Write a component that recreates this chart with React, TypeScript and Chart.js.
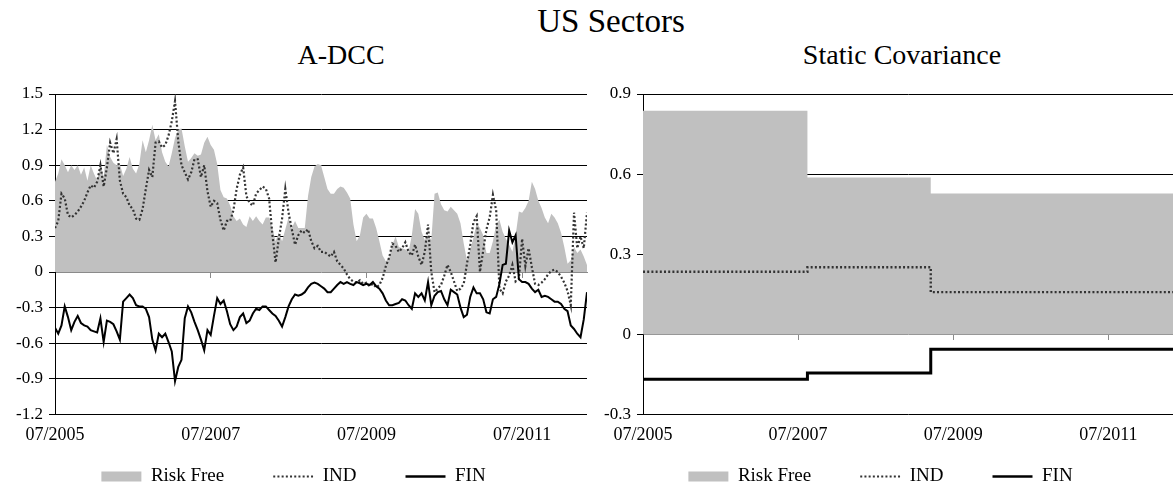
import { useEffect, useRef } from 'react';
import { Chart, registerables } from 'chart.js';

Chart.register(...registerables);

// Semi-monthly observations starting July 2005
const START_YEAR = 2005.5;
const PERIODS_PER_YEAR = 24;

const riskFree = [
  0.76, 0.83, 0.95, 0.90, 0.84, 0.90, 0.86, 0.90, 0.82, 0.88,
  0.77, 0.90, 0.83, 0.77, 0.91, 0.80, 1.07, 0.97, 0.92, 0.90,
  0.91, 0.81, 0.87, 0.97, 0.87, 0.83, 0.91, 1.11, 1.01, 1.11,
  1.24, 1.11, 1.16, 1.01, 0.93, 0.89, 1.00, 1.13, 1.20, 1.21,
  1.06, 0.93, 0.96, 1.00, 0.98, 0.99, 1.09, 1.14, 1.07, 1.03,
  0.91, 0.69, 0.63, 0.62, 0.56, 0.47, 0.43, 0.45, 0.40, 0.38,
  0.47, 0.43, 0.47, 0.43, 0.40, 0.46, 0.46, 0.37, 0.26, 0.33,
  0.26, 0.36, 0.46, 0.37, 0.43, 0.37, 0.37, 0.37, 0.64, 0.80,
  0.89, 0.91, 0.90, 0.80, 0.70, 0.66, 0.66, 0.70, 0.72, 0.71,
  0.67, 0.62, 0.40, 0.26, 0.31, 0.46, 0.49, 0.45, 0.45, 0.37,
  0.26, 0.14, 0.09, 0.12, 0.23, 0.30, 0.21, 0.20, 0.19, 0.17,
  0.31, 0.53, 0.49, 0.34, 0.27, 0.31, 0.27, 0.66, 0.67, 0.57,
  0.52, 0.51, 0.55, 0.52, 0.49, 0.41, 0.24, 0.10, 0.19, 0.29,
  0.41, 0.37, 0.31, 0.16, 0.16, 0.26, 0.40, 0.44, 0.34, 0.28,
  0.23, 0.17, 0.31, 0.51, 0.50, 0.54, 0.60, 0.76, 0.70, 0.60,
  0.54, 0.46, 0.41, 0.49, 0.46, 0.41, 0.33, 0.21, 0.07, 0.10,
  0.21, 0.16, 0.19, 0.13, 0.06,
];

const ind = [
  0.37, 0.43, 0.66, 0.62, 0.48, 0.46, 0.48, 0.51, 0.55, 0.60,
  0.67, 0.73, 0.71, 0.76, 0.90, 0.72, 0.88, 1.09, 1.00, 1.12,
  0.77, 0.66, 0.63, 0.56, 0.53, 0.45, 0.44, 0.53, 0.70, 0.86,
  0.80, 1.09, 1.10, 1.05, 1.07, 1.15, 1.27, 1.44, 1.10, 0.90,
  0.84, 0.78, 0.84, 0.95, 0.95, 0.80, 0.90, 0.68, 0.55, 0.60,
  0.58, 0.44, 0.35, 0.43, 0.43, 0.52, 0.70, 0.82, 0.88, 0.64,
  0.58, 0.56, 0.66, 0.69, 0.72, 0.70, 0.62, 0.32, 0.08, 0.28,
  0.45, 0.70, 0.50, 0.36, 0.23, 0.31, 0.35, 0.33, 0.36, 0.26,
  0.20, 0.22, 0.17, 0.17, 0.15, 0.13, 0.17, 0.09, 0.06, 0.03,
  -0.02, -0.06, -0.08, -0.09, -0.07, -0.10, -0.09, -0.12, -0.10, -0.13,
  -0.11, -0.05, 0.05, 0.12, 0.24, 0.22, 0.17, 0.20, 0.25, 0.17,
  0.14, 0.23, 0.13, 0.06, 0.17, 0.40, 0.00, -0.17, -0.14, -0.11,
  -0.03, 0.06, 0.00, -0.08, -0.16, -0.14, -0.10, 0.07, 0.23, 0.42,
  0.47, 0.00, 0.18, 0.36, 0.46, 0.65, 0.52, -0.14, -0.18, -0.08,
  -0.03, 0.06, -0.08, -0.06, 0.28, 0.05, 0.20, 0.04, -0.10, -0.11,
  -0.09, -0.06, -0.02, 0.01, 0.02, 0.00, -0.04, -0.09, -0.16, -0.28,
  0.50, 0.20, 0.30, 0.20, 0.50,
];

const fin = [
  -0.47, -0.52, -0.45, -0.29, -0.38, -0.49, -0.42, -0.37, -0.43, -0.45,
  -0.46, -0.49, -0.50, -0.51, -0.39, -0.59, -0.41, -0.42, -0.44, -0.50,
  -0.57, -0.25, -0.22, -0.19, -0.22, -0.28, -0.29, -0.29, -0.31, -0.38,
  -0.57, -0.66, -0.52, -0.55, -0.52, -0.59, -0.67, -0.92, -0.80, -0.74,
  -0.39, -0.29, -0.34, -0.42, -0.49, -0.57, -0.66, -0.49, -0.53, -0.37,
  -0.22, -0.27, -0.24, -0.33, -0.44, -0.49, -0.46, -0.38, -0.35, -0.43,
  -0.41, -0.35, -0.31, -0.32, -0.29, -0.29, -0.32, -0.35, -0.37, -0.41,
  -0.46, -0.38, -0.29, -0.23, -0.19, -0.20, -0.19, -0.17, -0.13, -0.10,
  -0.09, -0.10, -0.12, -0.14, -0.17, -0.17, -0.14, -0.11, -0.085, -0.10,
  -0.085, -0.10, -0.11, -0.085, -0.095, -0.11, -0.10, -0.11, -0.085, -0.12,
  -0.14, -0.18, -0.24, -0.28, -0.28, -0.27, -0.26, -0.23, -0.24, -0.28,
  -0.31, -0.18, -0.21, -0.18, -0.24, -0.085, -0.28, -0.20, -0.17, -0.16,
  -0.23, -0.28, -0.15, -0.17, -0.19, -0.30, -0.38, -0.36, -0.21, -0.13,
  -0.18, -0.18, -0.23, -0.34, -0.35, -0.23, -0.21, -0.10, 0.06, 0.07,
  0.35, 0.25, 0.31, -0.06, -0.085, -0.085, -0.10, -0.14, -0.17, -0.15,
  -0.21, -0.20, -0.21, -0.23, -0.25, -0.25, -0.27, -0.31, -0.33, -0.45,
  -0.48, -0.52, -0.55, -0.40, -0.17,
];

// Static covariance: one value per regime, each regime starting at the given date
const regimeStarts = [2005.5, 2007.62, 2009.21];
const staticRiskFree = [0.837, 0.587, 0.527];
const staticInd = [0.234, 0.251, 0.158];
const staticFin = [-0.168, -0.145, -0.056];

const tickYears = [2005.5, 2007.5, 2009.5, 2011.5];
const tickLabels = ['07/2005', '07/2007', '07/2009', '07/2011'];

const adccTicks = [-1.2, -0.9, -0.6, -0.3, 0, 0.3, 0.6, 0.9, 1.2, 1.5];
const staticTicks = [-0.3, 0, 0.3, 0.6, 0.9];

const END_YEAR = START_YEAR + (riskFree.length - 1) / PERIODS_PER_YEAR;

const FAMILY = "'Liberation Serif', 'Times New Roman', serif";
const GREY = '#c0c0c0';
const IND_COLOR = '#333333';
const AXIS_GREY = '#8a8a8a';
const IND_DASH = [2, 2.2];

Chart.defaults.font.family = FAMILY;
Chart.defaults.color = '#000';

const toSeries = (values: number[]) =>
  values.map((y, i) => ({ x: START_YEAR + i / PERIODS_PER_YEAR, y }));

const toSteps = (values: number[]) => [
  ...regimeStarts.map((x, k) => ({ x, y: values[k] })),
  { x: END_YEAR, y: values[values.length - 1] },
];

const formatY = (v: number) => (Math.abs(v) < 1e-9 ? '0' : v.toFixed(1));

const GAP = '\u00a0'.repeat(8);

const legendItems = () => [
  {
    text: 'Risk Free' + GAP,
    fillStyle: GREY,
    strokeStyle: GREY,
    lineWidth: 0,
    pointStyle: 'rect',
    fontColor: '#000',
    hidden: false,
    datasetIndex: 0,
  },
  {
    text: 'IND' + GAP,
    fillStyle: 'rgba(0,0,0,0)',
    strokeStyle: IND_COLOR,
    lineWidth: 2.2,
    lineDash: IND_DASH,
    pointStyle: 'line',
    fontColor: '#000',
    hidden: false,
    datasetIndex: 1,
  },
  {
    text: 'FIN',
    fillStyle: 'rgba(0,0,0,0)',
    strokeStyle: '#000',
    lineWidth: 2.5,
    pointStyle: 'line',
    fontColor: '#000',
    hidden: false,
    datasetIndex: 2,
  },
];

function buildConfig(datasets: any[], yTicks: number[], padRight: number): any {
  const setXTicks = (scale: any) => {
    scale.ticks = tickYears.map((value) => ({ value }));
  };
  return {
    type: 'line',
    data: { datasets },
    options: {
      animation: false,
      responsive: false,
      maintainAspectRatio: false,
      devicePixelRatio: 1,
      layout: { padding: { top: 94, right: padRight, left: 0, bottom: 0 } },
      scales: {
        x: {
          type: 'linear',
          min: START_YEAR,
          max: END_YEAR,
          afterBuildTicks: setXTicks,
          ticks: {
            callback: (_v: number, i: number) => tickLabels[i] ?? '',
            font: { family: FAMILY, size: 18 },
            color: '#000',
            padding: 10,
            maxRotation: 0,
            autoSkip: false,
          },
          grid: { display: false, drawTicks: false },
          border: { display: false },
        },
        xZero: {
          type: 'linear',
          axis: 'x',
          position: { y: 0 },
          min: START_YEAR,
          max: END_YEAR,
          afterBuildTicks: setXTicks,
          ticks: { display: false },
          grid: {
            drawOnChartArea: false,
            drawTicks: true,
            tickLength: 5,
            color: AXIS_GREY,
          },
          border: { display: true, color: AXIS_GREY, width: 1 },
          z: 1,
        },
        y: {
          type: 'linear',
          min: yTicks[0],
          max: yTicks[yTicks.length - 1],
          afterBuildTicks: (scale: any) => {
            scale.ticks = yTicks.map((value) => ({ value }));
          },
          afterFit: (scale: any) => {
            scale.width = 55;
          },
          ticks: {
            callback: (v: number) => formatY(v),
            font: { family: FAMILY, size: 17 },
            color: '#000',
            padding: 6,
          },
          grid: {
            color: (ctx: any) =>
              ctx.tick && Math.abs(ctx.tick.value) < 1e-9 ? 'rgba(0,0,0,0)' : '#000',
            tickColor: '#000',
            tickLength: 6,
            lineWidth: 1,
          },
          border: { display: true, color: '#000', width: 1 },
        },
      },
      plugins: {
        legend: {
          position: 'bottom',
          onClick: () => {},
          labels: {
            usePointStyle: true,
            pointStyleWidth: 40,
            boxHeight: 10,
            padding: 11,
            color: '#000',
            font: { family: FAMILY, size: 19 },
            generateLabels: legendItems,
          },
        },
        tooltip: { enabled: false },
      },
    },
  };
}

export default function App() {
  const leftRef = useRef<HTMLCanvasElement>(null);
  const rightRef = useRef<HTMLCanvasElement>(null);

  useEffect(() => {
    document.body.style.margin = '0';
    const lineBase = { pointRadius: 0, tension: 0 };

    const adcc = new Chart(
      leftRef.current as HTMLCanvasElement,
      buildConfig(
        [
          {
            ...lineBase,
            label: 'Risk Free',
            data: toSeries(riskFree),
            fill: 'origin',
            backgroundColor: GREY,
            borderColor: 'rgba(0,0,0,0)',
            borderWidth: 0,
            order: 3,
          },
          {
            ...lineBase,
            label: 'IND',
            data: toSeries(ind),
            fill: false,
            borderColor: IND_COLOR,
            borderWidth: 2.2,
            borderDash: IND_DASH,
            order: 2,
          },
          {
            ...lineBase,
            label: 'FIN',
            data: toSeries(fin),
            fill: false,
            borderColor: '#000',
            borderWidth: 2,
            order: 1,
          },
        ],
        adccTicks,
        3,
      ),
    );

    const stat = new Chart(
      rightRef.current as HTMLCanvasElement,
      buildConfig(
        [
          {
            ...lineBase,
            label: 'Risk Free',
            data: toSteps(staticRiskFree),
            stepped: true,
            fill: 'origin',
            backgroundColor: GREY,
            borderColor: 'rgba(0,0,0,0)',
            borderWidth: 0,
            order: 3,
          },
          {
            ...lineBase,
            label: 'IND',
            data: toSteps(staticInd),
            stepped: true,
            fill: false,
            borderColor: IND_COLOR,
            borderWidth: 2.4,
            borderDash: IND_DASH,
            order: 2,
          },
          {
            ...lineBase,
            label: 'FIN',
            data: toSteps(staticFin),
            stepped: true,
            fill: false,
            borderColor: '#000',
            borderWidth: 3,
            order: 1,
          },
        ],
        staticTicks,
        0,
      ),
    );

    return () => {
      adcc.destroy();
      stat.destroy();
    };
  }, []);

  const textBase: any = {
    position: 'absolute',
    transform: 'translateX(-50%)',
    whiteSpace: 'nowrap',
    lineHeight: 1,
    color: '#000',
    fontFamily: FAMILY,
  };

  return (
    <div
      style={{
        position: 'relative',
        width: 1173,
        height: 484,
        overflow: 'hidden',
        background: '#fff',
      }}
    >
      <div style={{ ...textBase, left: 611, top: 5, fontSize: 33 }}>US Sectors</div>
      <div style={{ ...textBase, left: 341, top: 41, fontSize: 28 }}>A-DCC</div>
      <div style={{ ...textBase, left: 902, top: 41, fontSize: 28 }}>Static Covariance</div>
      <canvas
        ref={leftRef}
        width={590}
        height={496}
        style={{ position: 'absolute', left: 0, top: 0, width: 590, height: 496 }}
      />
      <canvas
        ref={rightRef}
        width={585}
        height={496}
        style={{ position: 'absolute', left: 588, top: 0, width: 585, height: 496 }}
      />
    </div>
  );
}
